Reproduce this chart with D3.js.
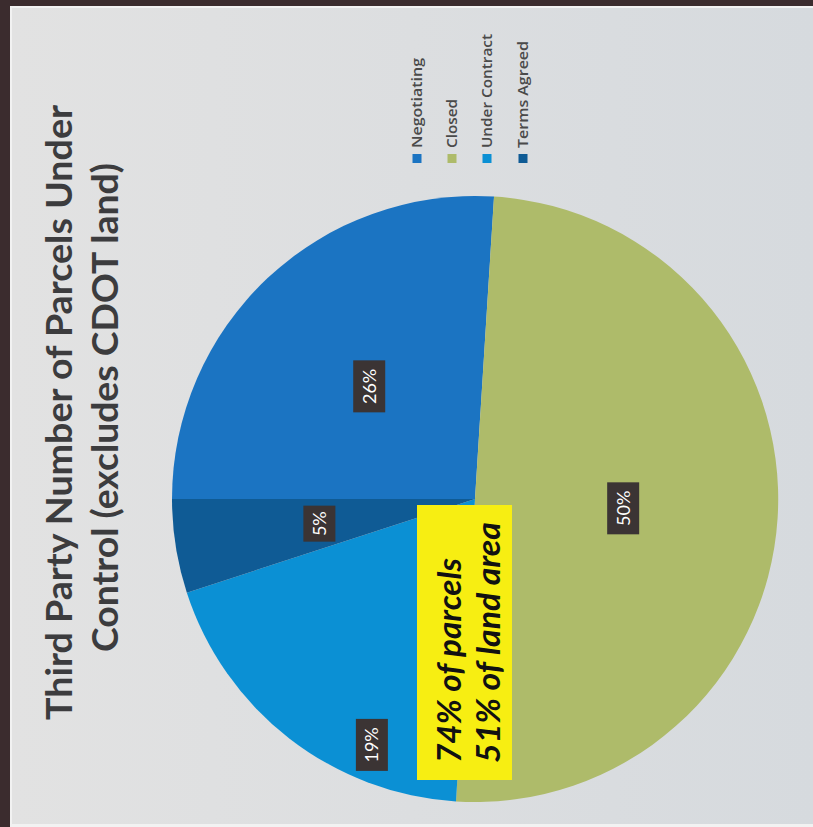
<!DOCTYPE html>
<html>
<head>
<meta charset="utf-8">
<script src="https://cdn.jsdelivr.net/npm/d3@7"></script>
<style>
  body { margin: 0; background: #dcdee1; }
  svg { display: block; }
</style>
</head>
<body>
<svg id="chart"></svg>
<script>
// chart data
var categories = ["Negotiating", "Closed", "Under Contract", "Terms Agreed"];
var values = [26, 50, 19, 5];
var labels = ["26%", "50%", "19%", "5%"];
var colors = ["#1b74c2", "#aebb6a", "#0b90d4", "#0f5b95"];
var titleLines = ["Third Party Number of Parcels Under", "Control (excludes CDOT land)"];
var noteLines = ["74% of parcels", "51% of land area"];

var W = 813, H = 827;
var svg = d3.select("#chart").attr("width", W).attr("height", H);

// photo-like backdrop: dark edge on the left and top only
var defs = svg.append("defs");
var grad = defs.append("linearGradient").attr("id", "bg").attr("x1", 0).attr("x2", 1).attr("y1", 0).attr("y2", 0);
grad.append("stop").attr("offset", "0%").attr("stop-color", "#e2e2e2");
grad.append("stop").attr("offset", "100%").attr("stop-color", "#d6dade");
svg.append("rect").attr("width", W).attr("height", H).attr("fill", "#3b2c2e");
svg.append("rect").attr("x", 10).attr("y", 6).attr("width", W - 10).attr("height", H - 6)
  .attr("fill", "#f2f2f2");
svg.append("rect").attr("x", 12).attr("y", 8).attr("width", W - 12).attr("height", H - 11)
  .attr("fill", "url(#bg)");

// the chart was photographed on its side: draw upright, then turn it
var g = svg.append("g").attr("transform", `translate(0, ${H}) rotate(-90)`);

var cx = 328, cy = 475, r = 303;
var pie = d3.pie().sort(null).value(function (d) { return d; });
var arcs = pie(values);
var arc = d3.arc().innerRadius(0).outerRadius(r);

var pg = g.append("g").attr("transform", `translate(${cx}, ${cy})`);
pg.selectAll("path")
  .data(arcs)
  .join("path")
  .attr("d", arc)
  .attr("fill", function (d, i) { return colors[i]; })
  .attr("stroke", "none");

// data labels (19% was dragged out toward the rim)
var labelR = [0.51, 0.49, 0.88, 0.52];
var labelA = [0.5, 0.5, 0.28, 0.5];
var lab = pg.selectAll(".lab")
  .data(arcs)
  .join("g")
  .attr("class", "lab")
  .attr("transform", function (d, i) {
    var a = d.startAngle + (d.endAngle - d.startAngle) * labelA[i];
    var rr = r * labelR[i];
    return `translate(${Math.sin(a) * rr}, ${-Math.cos(a) * rr})`;
  });
lab.append("rect")
  .attr("x", function (d, i) { return i == 3 ? -18 : -26; })
  .attr("width", function (d, i) { return i == 3 ? 36 : 52; })
  .attr("y", -16).attr("height", 32)
  .attr("fill", "#3b3434");
lab.append("text")
  .attr("text-anchor", "middle")
  .attr("dy", "0.36em")
  .style("font-family", "Lato, 'Open Sans', sans-serif")
  .style("font-size", "18px")
  .style("fill", "#ffffff")
  .text(function (d, i) { return labels[i]; });

// title
var titleX = [107, 175], titleY = [72, 118], titleLen = [615, 489];
g.selectAll(".title")
  .data(titleLines)
  .join("text")
  .attr("class", "title")
  .attr("x", function (d, i) { return titleX[i]; })
  .attr("y", function (d, i) { return titleY[i]; })
  .attr("textLength", function (d, i) { return titleLen[i]; })
  .attr("lengthAdjust", "spacingAndGlyphs")
  .style("font-family", "Lato, 'Open Sans', sans-serif")
  .style("font-size", "37px")
  .style("font-weight", "bold")
  .style("fill", "#3c3c3e")
  .text(function (d) { return d; });

// legend
var legY = [417, 452, 487, 523], legLen = [90, 49, 114, 107];
var leg = g.selectAll(".leg")
  .data(categories)
  .join("g")
  .attr("class", "leg")
  .attr("transform", function (d, i) { return `translate(664, ${legY[i]})`; });
leg.append("rect")
  .attr("x", 0).attr("y", -4.5).attr("width", 9).attr("height", 9)
  .attr("fill", function (d, i) { return colors[i]; });
leg.append("text")
  .attr("x", 15)
  .attr("dy", "0.35em")
  .attr("textLength", function (d, i) { return legLen[i]; })
  .attr("lengthAdjust", "spacingAndGlyphs")
  .style("font-family", "'Open Sans', Lato, sans-serif")
  .style("font-size", "15px")
  .style("font-weight", "600")
  .style("fill", "#4a4a4a")
  .text(function (d) { return d; });

// yellow callout
g.append("rect")
  .attr("x", 47).attr("y", 417).attr("width", 275).attr("height", 95)
  .attr("fill", "#f7ee12");
var noteY = [461, 500], noteLen = [205, 241];
g.selectAll(".note")
  .data(noteLines)
  .join("text")
  .attr("class", "note")
  .attr("x", 64)
  .attr("y", function (d, i) { return noteY[i]; })
  .attr("textLength", function (d, i) { return noteLen[i]; })
  .attr("lengthAdjust", "spacingAndGlyphs")
  .style("font-family", "Lato, 'Open Sans', sans-serif")
  .style("font-size", "32px")
  .style("font-weight", "bold")
  .style("font-style", "italic")
  .style("fill", "#111111")
  .text(function (d) { return d; });
</script>
</body>
</html>
